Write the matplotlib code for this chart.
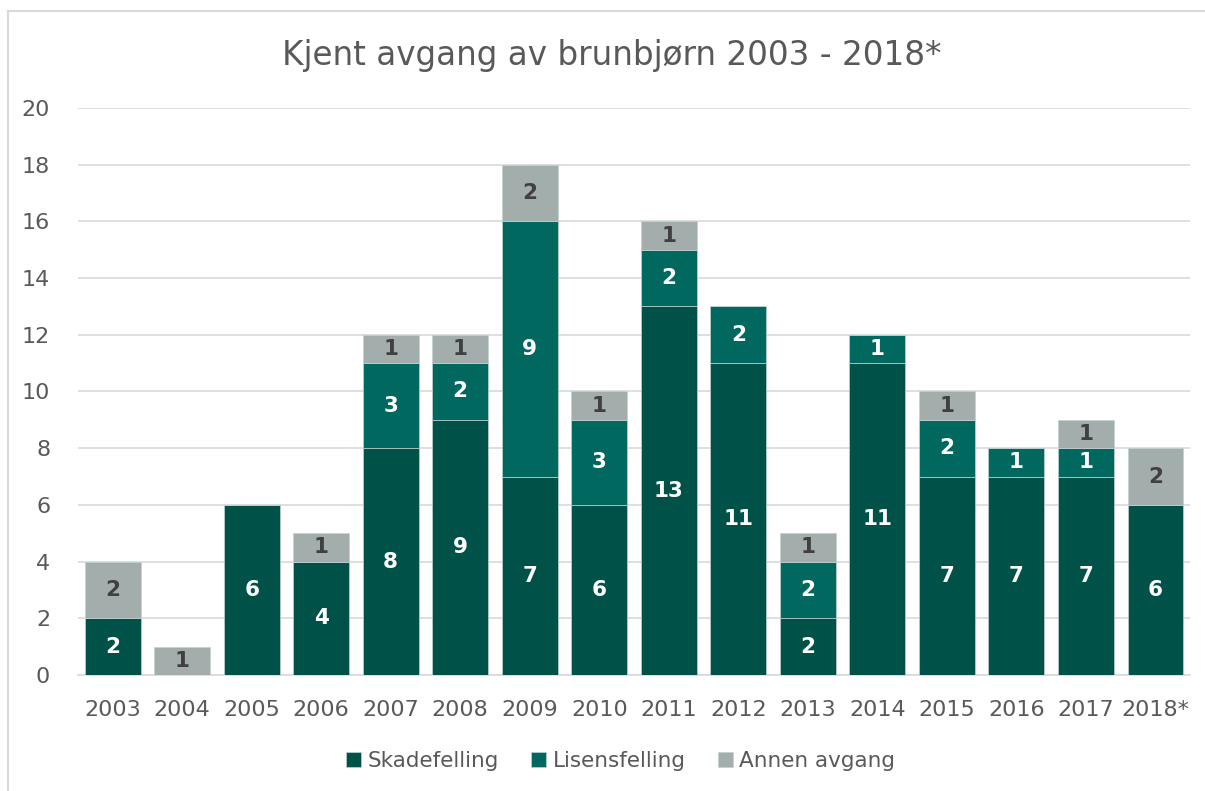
import numpy as np
import matplotlib.pyplot as plt
from matplotlib.patches import Rectangle

years = ["2003", "2004", "2005", "2006", "2007", "2008", "2009", "2010",
         "2011", "2012", "2013", "2014", "2015", "2016", "2017", "2018*"]
skade = [2, 0, 6, 4, 8, 9, 7, 6, 13, 11, 2, 11, 7, 7, 7, 6]
lisens = [0, 0, 0, 0, 3, 2, 9, 3, 2, 2, 2, 1, 2, 1, 1, 0]
annen = [2, 1, 0, 1, 1, 1, 2, 1, 1, 0, 1, 0, 1, 0, 1, 2]

names = ["Skadefelling", "Lisensfelling", "Annen avgang"]
colors = ["#005249", "#00685F", "#A3ADAB"]
txtcol = ["white", "white", "#404040"]

plt.rcParams['font.family'] = ['DejaVu Sans']

fig = plt.figure(figsize=(12.05, 7.91), dpi=100)
ax = fig.add_axes([0.0647, 0.1467, 0.9229, 0.7168])

x = np.arange(len(years))
bottom = np.zeros(len(years))
for vals, name, c, tc in zip([skade, lisens, annen], names, colors, txtcol):
    vals = np.array(vals)
    ax.bar(x, vals, 0.8, bottom=bottom, color=c, label=name,
           edgecolor="#BFD3D0", linewidth=0.5, zorder=3)
    for xi, v, b in zip(x, vals, bottom):
        if v > 0:
            ax.text(xi, b + v / 2, str(v), ha="center", va="center",
                    color=tc, fontsize=15.5, fontweight="bold", zorder=4)
    bottom += vals

ax.set_xlim(-0.5, len(years) - 0.5)
ax.set_ylim(0, 20)
ax.set_yticks(range(0, 21, 2))
ax.set_xticks(x)
ax.set_xticklabels(years)
ax.tick_params(axis="both", length=0, labelsize=16, labelcolor="#595959")
ax.tick_params(axis="x", pad=18)
ax.tick_params(axis="y", pad=20)
ax.grid(axis="y", color="#D9D9D9", linewidth=1.2, zorder=0)
for s in ["top", "right", "left"]:
    ax.spines[s].set_visible(False)
ax.spines["bottom"].set_color("#D9D9D9")
ax.spines["bottom"].set_linewidth(1.2)

fig.text(0.508, 0.93, "Kjent avgang av brunbjørn 2003 - 2018*", ha="center",
         va="center", fontsize=23.5, color="#595959")

leg = fig.legend(loc="center", bbox_to_anchor=(0.515, 0.038), ncol=3,
                 frameon=False, fontsize=15.5, handlelength=0.7, handleheight=0.7,
                 handletextpad=0.3, columnspacing=1.5)
for t in leg.get_texts():
    t.set_color("#595959")

fig.patches.append(Rectangle((0.007, -0.1), 1.2, 1.086, transform=fig.transFigure,
                             fill=False, edgecolor="#D9D9D9", linewidth=1.5))

fig.savefig("out.png", dpi=100)
